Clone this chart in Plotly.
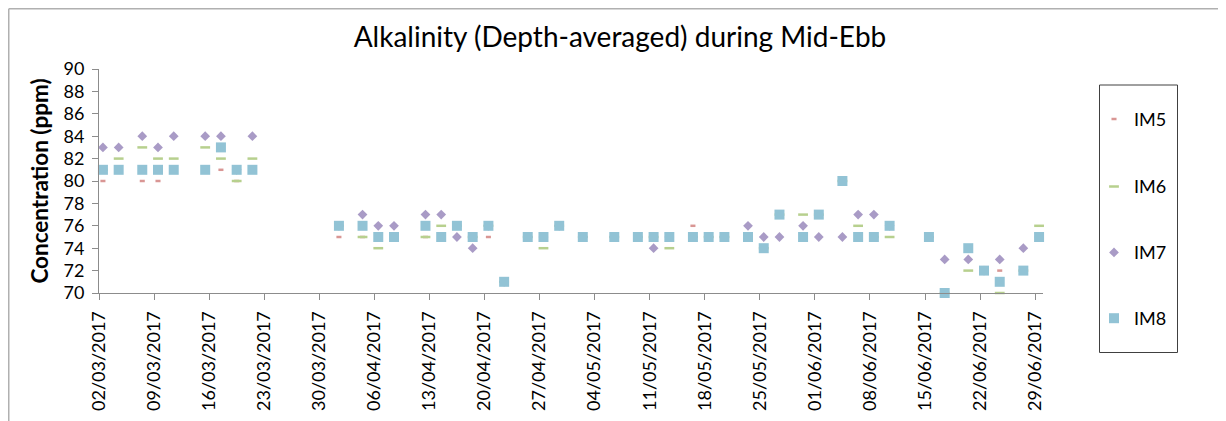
import pandas as pd
import plotly.graph_objects as go

# ---------------- data ----------------
dates = [
    "2017-03-02", "2017-03-04", "2017-03-07", "2017-03-09", "2017-03-11",
    "2017-03-15", "2017-03-17", "2017-03-19", "2017-03-21",
    "2017-04-01", "2017-04-04", "2017-04-06", "2017-04-08", "2017-04-12",
    "2017-04-14", "2017-04-16", "2017-04-18", "2017-04-20", "2017-04-22",
    "2017-04-25", "2017-04-27", "2017-04-29", "2017-05-02", "2017-05-06",
    "2017-05-09", "2017-05-11", "2017-05-13", "2017-05-16", "2017-05-18",
    "2017-05-20", "2017-05-23", "2017-05-25",
    "2017-05-27", "2017-05-30", "2017-06-01", "2017-06-04", "2017-06-06",
    "2017-06-08", "2017-06-10",
    "2017-06-15", "2017-06-17", "2017-06-20", "2017-06-22", "2017-06-24",
    "2017-06-27", "2017-06-29",
]

im5 = [80, 81, 80, 80, 81, 81, 81, 80, 81,
       75, 75, 75, 75, 75, 75, 76, 75, 75, 71,
       75, 75, 76, 75, 75, 75, 75, 75, 76, 75, 75, 75, 74,
       77, 75, 77, 75, 75, 75, 76,
       75, 70, 74, 72, 72, 72, 75]

im6 = [81, 82, 83, 82, 82, 83, 82, 80, 82,
       76, 75, 74, 75, 75, 76, 76, 75, 76, 71,
       75, 74, 76, 75, 75, 75, 75, 74, 75, 75, 75, 75, 74,
       77, 77, 77, 80, 76, 75, 75,
       75, 70, 72, 72, 70, 72, 76]

im7 = [83, 83, 84, 83, 84, 84, 84, 81, 84,
       76, 77, 76, 76, 77, 77, 75, 74, 76, 71,
       75, 75, 76, 75, 75, 75, 74, 75, 75, 75, 75, 76, 75,
       75, 76, 75, 75, 77, 77, 76,
       75, 73, 73, 72, 73, 74, 75]

im8 = [81, 81, 81, 81, 81, 81, 83, 81, 81,
       76, 76, 75, 75, 76, 75, 76, 75, 76, 71,
       75, 75, 76, 75, 75, 75, 75, 75, 75, 75, 75, 75, 74,
       77, 75, 77, 80, 75, 75, 76,
       75, 70, 74, 72, 71, 72, 75]

series_names = ["IM5", "IM6", "IM7", "IM8"]

# ---------------- geometry ----------------
W, H = 1226, 421
OFF = 8  # page body margin of the generated html
ML, MT, PW, PH = 91, 61, 944, 224
MR, MB = W - ML - PW, H - MT - PH


def px_x(p):
    """reference-image x pixel -> paper x"""
    return (p - OFF - ML) / PW


def px_y(p):
    """reference-image y pixel -> paper y"""
    return (MT + PH - (p - OFF)) / PH


FONT = "Lato"
# Excel plots date points in the middle of the day
xs = pd.to_datetime(dates) + pd.Timedelta(hours=12)

styles = {
    "IM5": dict(symbol="line-ew", size=3.6, color="#d99694",
                line=dict(color="#d99694", width=2.5)),
    "IM6": dict(symbol="line-ew", size=7, color="#b7d08e",
                line=dict(color="#b7d08e", width=2.5)),
    "IM7": dict(symbol="diamond", size=7.5, color="#a99bc6",
                line=dict(width=0)),
    "IM8": dict(symbol="square", size=10, color="#92c3d5",
                line=dict(width=0)),
}
legend_ids = ["legend", "legend2", "legend3", "legend4"]
legend_centres = [119.3, 186.7, 252.7, 318.5]

fig = go.Figure()
for name, vals, lid in zip(series_names, [im5, im6, im7, im8], legend_ids):
    fig.add_trace(go.Scatter(
        x=xs, y=vals, mode="markers", name=name, legend=lid,
        marker=styles[name], cliponaxis=False,
    ))

legend_common = dict(xanchor="left", yanchor="middle",
                     font=dict(family=FONT, size=18, color="black"),
                     bgcolor="rgba(0,0,0,0)", borderwidth=0, itemwidth=30)
legend_layout = {
    lid: dict(x=px_x(1094), y=px_y(yc), **legend_common)
    for lid, yc in zip(legend_ids, legend_centres)
}

fig.update_layout(
    width=W, height=H,
    margin=dict(l=ML, r=MR, t=MT, b=MB, autoexpand=False),
    paper_bgcolor="white", plot_bgcolor="white",
    font=dict(family=FONT, color="black"),
    title=dict(text="Alkalinity (Depth-averaged) during Mid-Ebb",
               x=(620 - OFF) / W, xanchor="center",
               y=1 - (37 - OFF) / H, yanchor="middle",
               font=dict(family=FONT, size=28, color="black")),
    showlegend=True,
    xaxis=dict(
        type="date", range=["2017-03-02", "2017-06-30"],
        tickmode="linear", tick0="2017-03-02", dtick=7 * 86400000,
        tickformat="%d/%m/%Y", tickangle=-90,
        tickfont=dict(family=FONT, size=18),
        showgrid=False, zeroline=False,
        showline=True, linecolor="#8c8c8c", linewidth=1,
        ticks="outside", ticklen=6, tickcolor="#8c8c8c",
        ticklabelstandoff=4,
    ),
    yaxis=dict(
        range=[70, 90], tickmode="linear", tick0=70, dtick=2,
        tickfont=dict(family=FONT, size=18),
        showgrid=False, zeroline=False,
        showline=True, linecolor="#8c8c8c", linewidth=1,
        ticks="outside", ticklen=6, tickcolor="#8c8c8c",
        ticklabelstandoff=4,
        title=dict(text="<b>Concentration (ppm)</b>", standoff=8,
                   font=dict(family=FONT, size=22.5)),
    ),
    shapes=[
        # legend frame
        dict(type="rect", xref="paper", yref="paper",
             x0=px_x(1099.5), x1=px_x(1177.5), y0=px_y(352.5), y1=px_y(85),
             line=dict(color="#404040", width=1), fillcolor="rgba(0,0,0,0)"),
        # chart-area border (top and left)
        dict(type="line", xref="paper", yref="paper",
             x0=px_x(OFF + 0.75), x1=px_x(W + 20), y0=px_y(OFF + 0.75),
             y1=px_y(OFF + 0.75), line=dict(color="#b0b0b0", width=1.5)),
        dict(type="line", xref="paper", yref="paper",
             x0=px_x(OFF + 0.75), x1=px_x(OFF + 0.75), y0=px_y(OFF + 0.75),
             y1=px_y(H + 20), line=dict(color="#b0b0b0", width=1.5)),
    ],
)
fig.update_layout(**legend_layout)

fig.write_html("out.html")
